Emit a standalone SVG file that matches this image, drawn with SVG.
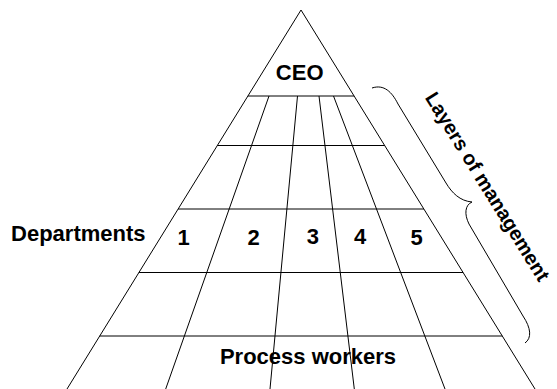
<svg xmlns="http://www.w3.org/2000/svg" width="557" height="389" viewBox="0 0 557 389">
  <style>
    .ln { stroke: #000; stroke-width: 1; fill: none; }
    .lbl { font-family: "Liberation Sans", Arial, Helvetica, sans-serif; font-weight: bold; font-size: 22px; fill: #000; }
    .mid { text-anchor: middle; }
  </style>
  <rect width="557" height="389" fill="#fff"/>
  <g id="pyramid">
    <path class="ln" d="M67,389 L301,10 L535,389"/>
  </g>
  <g id="layers">
    <line class="ln" x1="247.9" y1="96" x2="354.1" y2="96"/>
    <line class="ln" x1="217.3" y1="145.5" x2="384.7" y2="145.5"/>
    <line class="ln" x1="178.1" y1="209" x2="423.9" y2="209"/>
    <line class="ln" x1="138.9" y1="272.5" x2="463.1" y2="272.5"/>
    <line class="ln" x1="99.7" y1="336" x2="502.3" y2="336"/>
  </g>
  <g id="department-dividers">
    <line class="ln" x1="269" y1="96" x2="165.7" y2="389"/>
    <line class="ln" x1="297.5" y1="96" x2="270" y2="389"/>
    <line class="ln" x1="319" y1="96" x2="354.3" y2="389"/>
    <line class="ln" x1="333.5" y1="96" x2="445" y2="389"/>
  </g>
  <g id="brace">
    <path class="ln" d="M372,88 C384,84 392,92 398,104 L446,183 C452,193 460,201 472,202 C465,205 464,214 469,224 L523,316 C531,328 532,338 525,343"/>
  </g>
  <g id="ceo"><text class="lbl mid" x="299.7" y="80">CEO</text></g>
  <g id="departments-label"><text class="lbl mid" x="78.3" y="241">Departments</text></g>
  <g id="dept-1"><text class="lbl mid" x="183.7" y="245">1</text></g>
  <g id="dept-2"><text class="lbl mid" x="253.7" y="244.5">2</text></g>
  <g id="dept-3"><text class="lbl mid" x="312.8" y="244">3</text></g>
  <g id="dept-4"><text class="lbl mid" x="360" y="244">4</text></g>
  <g id="dept-5"><text class="lbl mid" x="416.5" y="245">5</text></g>
  <g id="process-workers"><text class="lbl mid" x="308" y="364">Process workers</text></g>
  <g id="layers-of-management"><text class="lbl" style="font-size:20px" transform="translate(424.4,97.5) rotate(58.3)">Layers of management</text></g>
</svg>
